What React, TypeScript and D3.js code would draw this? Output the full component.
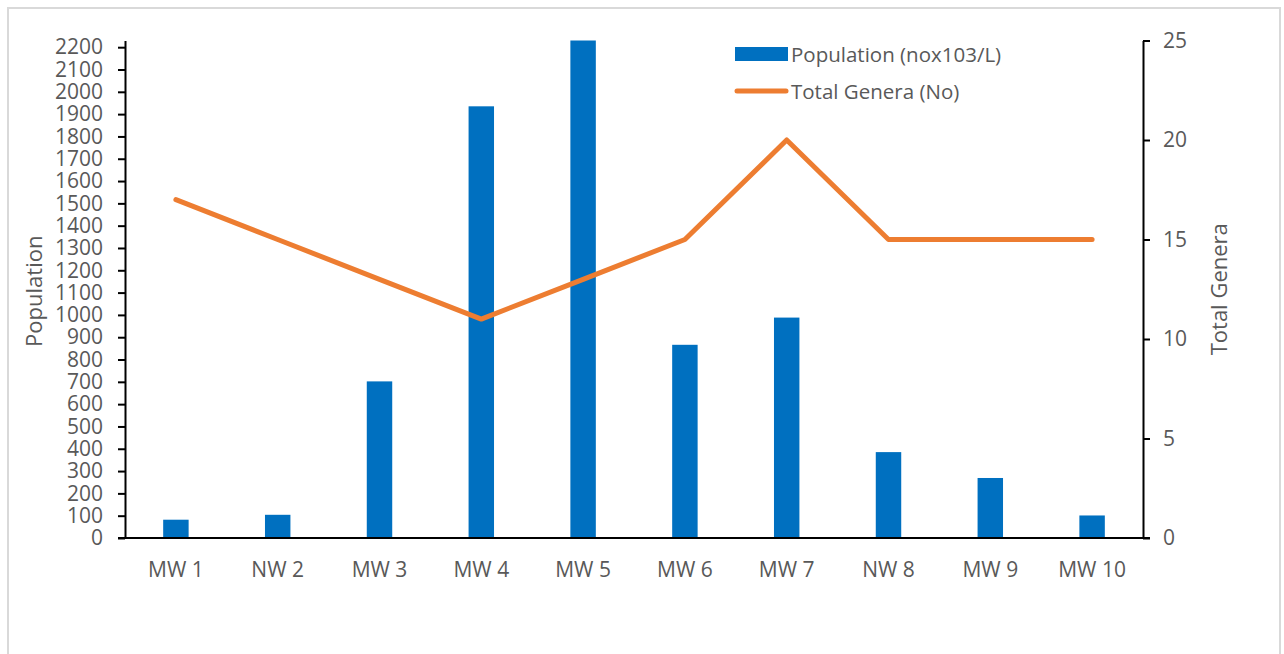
import React, { useEffect, useRef } from 'react';
import * as d3 from 'd3';

const categories = ['MW 1', 'NW 2', 'MW 3', 'MW 4', 'MW 5', 'MW 6', 'MW 7', 'NW 8', 'MW 9', 'MW 10'];
const population = [82, 104, 702, 1935, 2230, 866, 988, 385, 269, 101];
const totalGenera = [17, 15, 13, 11, 13, 15, 20, 15, 15, 15];
const leftTicks = d3.range(0, 2201, 100);
const rightTicks = [0, 5, 10, 15, 20, 25];

const BLUE = '#0070C0';
const ORANGE = '#ED7D31';
const TEXT = '#595959';
const FONT = "'Open Sans', sans-serif";

const App: React.FC = () => {
  const svgRef = useRef<SVGSVGElement>(null);

  useEffect(() => {
    document.body.style.margin = '0';
    if (!svgRef.current) return;
    const svg = d3.select(svgRef.current);
    svg.selectAll('*').remove();

    const width = 1284;
    const height = 654;
    const plot = { left: 125, right: 1143, top: 40.5, bottom: 538 };

    svg.attr('width', width).attr('height', height);

    // outer chart frame
    svg.append('rect')
      .attr('x', 8).attr('y', 8)
      .attr('width', 1272).attr('height', 680)
      .attr('fill', '#fff')
      .attr('stroke', '#d9d9d9')
      .attr('stroke-width', 2);

    const x = d3.scaleBand<string>()
      .domain(categories)
      .range([plot.left, plot.right])
      .paddingInner(0.75)
      .paddingOuter(0.375);

    const band = d3.scaleBand<string>()
      .domain(categories)
      .range([plot.left, plot.right]);

    const yLeft = d3.scaleLinear().domain([0, 2230]).range([plot.bottom, plot.top]);
    const yRight = d3.scaleLinear().domain([0, 25]).range([plot.bottom, plot.top]);

    // bars
    svg.append('g')
      .selectAll('rect')
      .data(population)
      .enter()
      .append('rect')
      .attr('x', (_, i) => x(categories[i]) as number)
      .attr('y', d => yLeft(d))
      .attr('width', x.bandwidth())
      .attr('height', d => plot.bottom - yLeft(d))
      .attr('fill', BLUE);

    // line
    const line = d3.line<number>()
      .x((_, i) => (band(categories[i]) as number) + band.bandwidth() / 2)
      .y(d => yRight(d));

    svg.append('path')
      .datum(totalGenera)
      .attr('d', line)
      .attr('fill', 'none')
      .attr('stroke', ORANGE)
      .attr('stroke-width', 5)
      .attr('stroke-linecap', 'round')
      .attr('stroke-linejoin', 'round');

    // left axis
    const left = svg.append('g')
      .attr('transform', `translate(${plot.left},0)`)
      .call(d3.axisLeft(yLeft).tickValues(leftTicks).tickFormat(d3.format('d'))
        .tickSize(7).tickSizeOuter(0).tickPadding(15));
    left.select('.domain').attr('stroke', '#000').attr('stroke-width', 2);
    left.selectAll('.tick line').attr('stroke', '#000').attr('stroke-width', 2);
    left.selectAll('.tick text')
      .attr('fill', TEXT)
      .style('font-family', FONT)
      .style('font-size', '21px');

    // right axis
    const right = svg.append('g')
      .attr('transform', `translate(${plot.right},0)`)
      .call(d3.axisRight(yRight).tickValues(rightTicks).tickSize(7).tickSizeOuter(0).tickPadding(13));
    right.select('.domain').attr('stroke', '#000').attr('stroke-width', 2);
    right.selectAll('.tick line').attr('stroke', '#000').attr('stroke-width', 2);
    right.selectAll('.tick text')
      .attr('fill', TEXT)
      .style('font-family', FONT)
      .style('font-size', '21px');

    // x axis
    const bottom = svg.append('g')
      .attr('transform', `translate(0,${plot.bottom})`)
      .call(d3.axisBottom(band).tickSize(0).tickPadding(24));
    bottom.select('.domain').remove();
    bottom.selectAll('.tick text')
      .attr('fill', TEXT)
      .style('font-family', FONT)
      .style('font-size', '21px');
    svg.append('line')
      .attr('x1', plot.left - 7).attr('x2', plot.right + 7)
      .attr('y1', plot.bottom).attr('y2', plot.bottom)
      .attr('stroke', '#000').attr('stroke-width', 2);

    // axis titles
    svg.append('text')
      .attr('transform', `translate(42,${(plot.top + plot.bottom) / 2 + 2}) rotate(-90)`)
      .attr('text-anchor', 'middle')
      .attr('fill', TEXT)
      .style('font-family', FONT)
      .style('font-size', '22px')
      .text('Population');

    svg.append('text')
      .attr('transform', `translate(1227,${(plot.top + plot.bottom) / 2}) rotate(-90)`)
      .attr('text-anchor', 'middle')
      .attr('fill', TEXT)
      .style('font-family', FONT)
      .style('font-size', '22px')
      .text('Total Genera');

    // legend
    const legend = svg.append('g').attr('transform', 'translate(735,0)');
    legend.append('rect')
      .attr('x', 0).attr('y', 47)
      .attr('width', 53).attr('height', 14)
      .attr('fill', BLUE);
    legend.append('text')
      .attr('x', 56).attr('y', 62)
      .attr('fill', TEXT)
      .style('font-family', FONT)
      .style('font-size', '20.5px')
      .text('Population (nox103/L)');
    legend.append('line')
      .attr('x1', 2).attr('x2', 51)
      .attr('y1', 91).attr('y2', 91)
      .attr('stroke', ORANGE)
      .attr('stroke-width', 5)
      .attr('stroke-linecap', 'round');
    legend.append('text')
      .attr('x', 56).attr('y', 99)
      .attr('fill', TEXT)
      .style('font-family', FONT)
      .style('font-size', '20.5px')
      .text('Total Genera (No)');
  }, []);

  return <svg ref={svgRef} style={{ display: 'block' }}></svg>;
};

export default App;
